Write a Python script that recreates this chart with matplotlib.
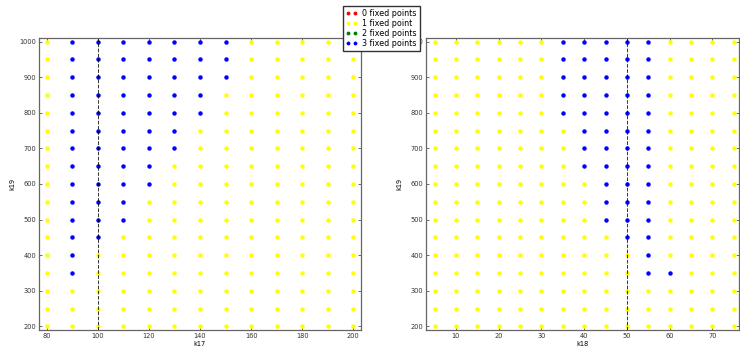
import numpy as np
import matplotlib
matplotlib.use('Agg')
import matplotlib.pyplot as plt

# 参数网格
k17 = [80, 90, 100, 110, 120, 130, 140, 150, 160, 170, 180, 190, 200]
k18 = [5, 10, 15, 20, 25, 30, 35, 40, 45, 50, 55, 60, 65, 70, 75]
k19 = [1000, 950, 900, 850, 800, 750, 700, 650, 600, 550, 500, 450, 400, 350, 300, 250, 200]

# 不动点个数, 每行对应一个k19 (从1000到200), 每个字符对应一个k17 / k18
fixed_k17 = [
    "1333333311111",
    "1333333311111",
    "1333333311111",
    "1333333111111",
    "1333333111111",
    "1333331111111",
    "1333331111111",
    "1333311111111",
    "1333311111111",
    "1333111111111",
    "1333111111111",
    "1331111111111",
    "1311111111111",
    "1311111111111",
    "1111111111111",
    "1111111111111",
    "1111111111111",
]
fixed_k18 = [
    "111111333331111",
    "111111333331111",
    "111111333331111",
    "111111333331111",
    "111111333331111",
    "111111133331111",
    "111111133331111",
    "111111133331111",
    "111111113331111",
    "111111113331111",
    "111111113331111",
    "111111111331111",
    "111111111131111",
    "111111111133111",
    "111111111111111",
    "111111111111111",
    "111111111111111",
]

k17_ref = 100  # 虚线位置
k18_ref = 50

colors = ['r', 'yellow', 'g', 'b']
labels = ['0 fixed points', '1 fixed point', '2 fixed points', '3 fixed points']


def draw(ax, xs, grid, xref, xlabel, xlim, xticks):
    for n in range(4):
        px, py = [], []
        for i, row in enumerate(grid):
            for j, c in enumerate(row):
                if int(c) == n:
                    px.append(xs[j])
                    py.append(k19[i])
        ax.plot(px, py, 'o', color=colors[n], markeredgecolor=colors[n],
                markersize=2.2, label=labels[n])
    ax.axvline(xref, color='k', linestyle='--', linewidth=0.7, alpha=0.8)
    ax.set_xlim(*xlim)
    ax.set_ylim(190, 1010)
    ax.set_xticks(xticks)
    ax.set_yticks(np.arange(200, 1001, 100))
    ax.set_xlabel(xlabel, fontsize=4.8, labelpad=1.5)
    ax.set_ylabel('k19', fontsize=4.8, labelpad=3)
    ax.tick_params(direction='in', top=True, right=True, labelsize=4.8,
                   length=2.5, width=0.5, colors='#333333', pad=2)
    for s in ax.spines.values():
        s.set_color('#666666')
        s.set_linewidth(0.9)


fig = plt.figure(figsize=(7.4, 3.51), dpi=100)
ax1 = fig.add_axes([39 / 740, 21 / 351, 322 / 740, 292 / 351])
ax2 = fig.add_axes([426 / 740, 21 / 351, 313 / 740, 292 / 351])

draw(ax1, k17, fixed_k17, k17_ref, 'k17', (77, 203), np.arange(80, 201, 20))
draw(ax2, k18, fixed_k18, k18_ref, 'k18', (3, 76.2), np.arange(10, 71, 10))

# 图例放在两图中间上方
handles, labs = ax1.get_legend_handles_labels()
fig.legend(handles, labs, loc='upper center', bbox_to_anchor=(0.515, 0.995),
           numpoints=2, fontsize=5.8, fancybox=False, edgecolor='#333333',
           framealpha=1, handlelength=1.5, handletextpad=0.6,
           borderpad=0.35, labelspacing=0.15, markerscale=0.8)

plt.savefig('out.png', dpi=100)
